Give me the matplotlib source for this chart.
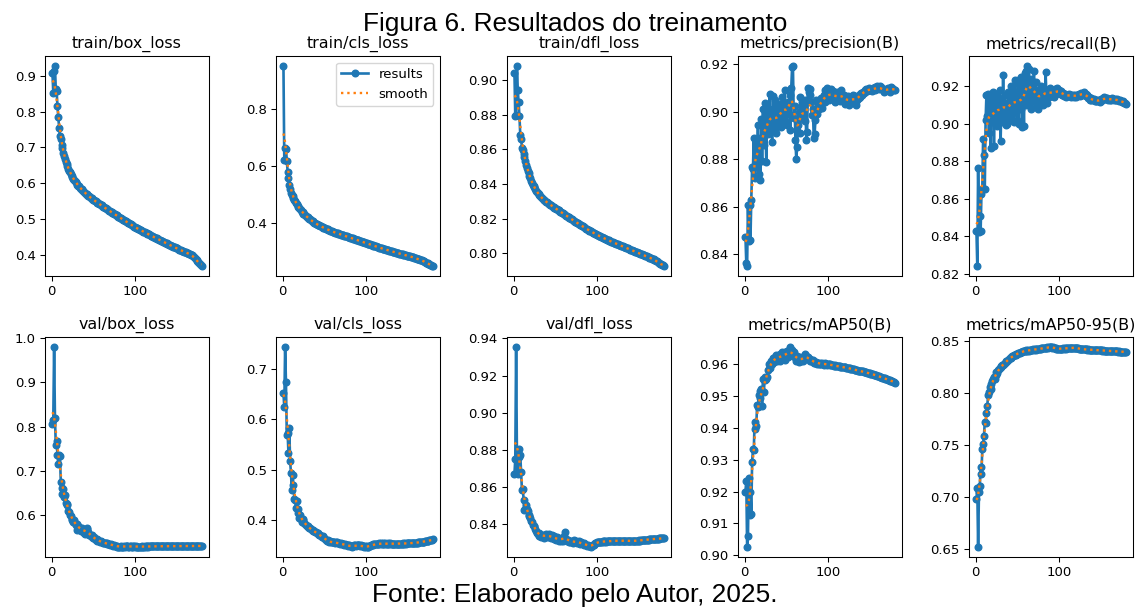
import numpy as np
import matplotlib
matplotlib.use("Agg")
import matplotlib.pyplot as plt
from matplotlib.patches import Rectangle
from matplotlib.ticker import MultipleLocator

# ── Training log (one value per epoch) ─────────────────────────────────────────
epochs = list(range(1, 181))

train_box_loss = [
    0.908, 0.853, 0.912, 0.927, 0.862, 0.858, 0.815, 0.784, 0.755, 0.731,
    0.722, 0.706, 0.697, 0.684, 0.677, 0.668, 0.660, 0.653, 0.647, 0.641,
    0.635, 0.630, 0.626, 0.621, 0.617, 0.613, 0.609, 0.606, 0.602, 0.599,
    0.596, 0.593, 0.591, 0.588, 0.585, 0.583, 0.580, 0.578, 0.576, 0.574,
    0.571, 0.569, 0.567, 0.565, 0.563, 0.561, 0.559, 0.558, 0.556, 0.554,
    0.552, 0.551, 0.549, 0.547, 0.546, 0.544, 0.542, 0.541, 0.539, 0.538,
    0.536, 0.534, 0.533, 0.531, 0.530, 0.528, 0.527, 0.525, 0.523, 0.522,
    0.520, 0.519, 0.518, 0.516, 0.515, 0.513, 0.512, 0.510, 0.509, 0.507,
    0.506, 0.504, 0.503, 0.501, 0.500, 0.498, 0.497, 0.495, 0.494, 0.492,
    0.491, 0.489, 0.488, 0.486, 0.485, 0.483, 0.482, 0.480, 0.479, 0.477,
    0.476, 0.475, 0.474, 0.473, 0.471, 0.470, 0.469, 0.468, 0.466, 0.465,
    0.464, 0.463, 0.461, 0.460, 0.459, 0.458, 0.457, 0.455, 0.454, 0.453,
    0.452, 0.451, 0.450, 0.448, 0.447, 0.446, 0.445, 0.444, 0.442, 0.441,
    0.440, 0.439, 0.438, 0.437, 0.435, 0.434, 0.433, 0.432, 0.431, 0.430,
    0.428, 0.427, 0.426, 0.425, 0.424, 0.423, 0.422, 0.421, 0.420, 0.419,
    0.418, 0.416, 0.415, 0.414, 0.413, 0.412, 0.411, 0.410, 0.409, 0.408,
    0.407, 0.406, 0.405, 0.404, 0.403, 0.402, 0.401, 0.400, 0.399, 0.397,
    0.394, 0.391, 0.388, 0.385, 0.382, 0.379, 0.376, 0.374, 0.371, 0.369,
]

train_cls_loss = [
    0.952, 0.622, 0.663, 0.661, 0.618, 0.580, 0.556, 0.533, 0.517, 0.505,
    0.498, 0.492, 0.486, 0.481, 0.476, 0.470, 0.465, 0.460, 0.455, 0.451,
    0.447, 0.443, 0.439, 0.436, 0.432, 0.429, 0.426, 0.423, 0.420, 0.418,
    0.416, 0.413, 0.411, 0.409, 0.406, 0.404, 0.402, 0.400, 0.398, 0.396,
    0.394, 0.393, 0.391, 0.390, 0.388, 0.387, 0.385, 0.384, 0.382, 0.381,
    0.380, 0.378, 0.377, 0.376, 0.374, 0.373, 0.372, 0.371, 0.369, 0.368,
    0.367, 0.366, 0.365, 0.364, 0.363, 0.362, 0.361, 0.360, 0.359, 0.358,
    0.357, 0.356, 0.355, 0.354, 0.353, 0.352, 0.351, 0.350, 0.349, 0.348,
    0.347, 0.346, 0.345, 0.344, 0.343, 0.342, 0.341, 0.340, 0.339, 0.338,
    0.337, 0.336, 0.335, 0.334, 0.333, 0.332, 0.331, 0.330, 0.329, 0.328,
    0.327, 0.326, 0.325, 0.324, 0.323, 0.322, 0.321, 0.320, 0.319, 0.318,
    0.317, 0.316, 0.315, 0.314, 0.313, 0.312, 0.311, 0.310, 0.309, 0.308,
    0.307, 0.306, 0.306, 0.305, 0.304, 0.303, 0.302, 0.301, 0.300, 0.299,
    0.299, 0.298, 0.297, 0.296, 0.295, 0.294, 0.294, 0.293, 0.292, 0.291,
    0.290, 0.290, 0.289, 0.288, 0.287, 0.287, 0.286, 0.285, 0.284, 0.284,
    0.283, 0.282, 0.281, 0.280, 0.279, 0.278, 0.277, 0.276, 0.275, 0.274,
    0.273, 0.272, 0.271, 0.270, 0.269, 0.268, 0.267, 0.266, 0.265, 0.263,
    0.261, 0.259, 0.258, 0.256, 0.255, 0.253, 0.251, 0.249, 0.248, 0.247,
]

train_dfl_loss = [
    0.9040, 0.8790, 0.8800, 0.9080, 0.8940, 0.8870, 0.8790, 0.8680, 0.8660, 0.8610,
    0.8598, 0.8575, 0.8553, 0.8532, 0.8512, 0.8494, 0.8477, 0.8461, 0.8446, 0.8432,
    0.8419, 0.8407, 0.8396, 0.8386, 0.8380, 0.8370, 0.8362, 0.8354, 0.8347, 0.8340,
    0.8334, 0.8328, 0.8323, 0.8318, 0.8313, 0.8309, 0.8305, 0.8301, 0.8298, 0.8294,
    0.8291, 0.8287, 0.8284, 0.8280, 0.8277, 0.8273, 0.8270, 0.8267, 0.8263, 0.8260,
    0.8257, 0.8254, 0.8250, 0.8247, 0.8244, 0.8241, 0.8237, 0.8234, 0.8231, 0.8228,
    0.8225, 0.8221, 0.8218, 0.8215, 0.8212, 0.8208, 0.8205, 0.8202, 0.8199, 0.8196,
    0.8192, 0.8189, 0.8186, 0.8183, 0.8180, 0.8176, 0.8173, 0.8170, 0.8167, 0.8164,
    0.8161, 0.8158, 0.8155, 0.8152, 0.8149, 0.8146, 0.8143, 0.8140, 0.8137, 0.8134,
    0.8131, 0.8128, 0.8126, 0.8123, 0.8120, 0.8118, 0.8115, 0.8112, 0.8110, 0.8107,
    0.8105, 0.8102, 0.8100, 0.8098, 0.8095, 0.8093, 0.8091, 0.8088, 0.8086, 0.8084,
    0.8082, 0.8079, 0.8077, 0.8075, 0.8073, 0.8071, 0.8068, 0.8066, 0.8064, 0.8062,
    0.8060, 0.8058, 0.8056, 0.8054, 0.8052, 0.8050, 0.8048, 0.8046, 0.8044, 0.8042,
    0.8040, 0.8038, 0.8036, 0.8034, 0.8032, 0.8030, 0.8028, 0.8026, 0.8024, 0.8022,
    0.8020, 0.8018, 0.8016, 0.8014, 0.8012, 0.8010, 0.8008, 0.8006, 0.8004, 0.8002,
    0.8000, 0.7998, 0.7996, 0.7994, 0.7992, 0.7990, 0.7988, 0.7986, 0.7984, 0.7982,
    0.7980, 0.7978, 0.7976, 0.7974, 0.7972, 0.7970, 0.7968, 0.7966, 0.7964, 0.7961,
    0.7957, 0.7953, 0.7949, 0.7946, 0.7942, 0.7939, 0.7936, 0.7933, 0.7930, 0.7927,
]

precision = [
    0.8475, 0.8362, 0.8351, 0.8608, 0.8455, 0.8607, 0.8462, 0.8630, 0.8768, 0.8760,
    0.8890, 0.8722, 0.8775, 0.8870, 0.8805, 0.8945, 0.8740, 0.8888, 0.8712, 0.8968,
    0.8795, 0.9010, 0.8860, 0.9038, 0.8932, 0.8790, 0.8985, 0.8905, 0.9010, 0.9075,
    0.8920, 0.9002, 0.8875, 0.9068, 0.8955, 0.8930, 0.9048, 0.8912, 0.8990, 0.8940,
    0.9035, 0.8960, 0.9010, 0.8935, 0.9062, 0.8985, 0.9020, 0.9092, 0.8960, 0.9008,
    0.8945, 0.9040, 0.8990, 0.9070, 0.8925, 0.9102, 0.9188, 0.9193, 0.8975, 0.9025,
    0.8880, 0.8800, 0.8850, 0.8945, 0.9000, 0.8910, 0.9062, 0.8995, 0.9040, 0.8968,
    0.9025, 0.8960, 0.9048, 0.8880, 0.8915, 0.9100, 0.9085, 0.9095, 0.9072, 0.9040,
    0.8985, 0.9010, 0.8890, 0.8905, 0.8965, 0.9050, 0.8990, 0.9035, 0.9012, 0.9045,
    0.9030, 0.9060, 0.9018, 0.9048, 0.9070, 0.9040, 0.9090, 0.9055, 0.9100, 0.9065,
    0.9048, 0.9080, 0.9062, 0.9095, 0.9070, 0.9088, 0.9055, 0.9078, 0.9040, 0.9065,
    0.9082, 0.9058, 0.9076, 0.9045, 0.9070, 0.9092, 0.9066, 0.9050, 0.9072, 0.9060,
    0.9035, 0.9058, 0.9042, 0.9066, 0.9030, 0.9052, 0.9040, 0.9062, 0.9048, 0.9070,
    0.9055, 0.9040, 0.9065, 0.9028, 0.9050, 0.9068, 0.9058, 0.9075, 0.9062, 0.9080,
    0.9070, 0.9085, 0.9078, 0.9090, 0.9082, 0.9095, 0.9088, 0.9092, 0.9100, 0.9094,
    0.9090, 0.9098, 0.9086, 0.9100, 0.9095, 0.9104, 0.9092, 0.9098, 0.9108, 0.9102,
    0.9095, 0.9100, 0.9110, 0.9104, 0.9098, 0.9090, 0.9085, 0.9092, 0.9088, 0.9096,
    0.9090, 0.9100, 0.9094, 0.9085, 0.9098, 0.9106, 0.9100, 0.9095, 0.9092, 0.9090,
]

recall = [
    0.8425, 0.8241, 0.8762, 0.8420, 0.8510, 0.8425, 0.8625, 0.8650, 0.8920, 0.8830,
    0.8650, 0.9020, 0.9155, 0.9040, 0.9160, 0.8950, 0.9130, 0.8870, 0.9150, 0.9010,
    0.9170, 0.8880, 0.9120, 0.9060, 0.9160, 0.8985, 0.9140, 0.9030, 0.9180, 0.8905,
    0.9120, 0.9010, 0.9260, 0.9040, 0.9150, 0.8990, 0.9110, 0.9000, 0.9170, 0.9060,
    0.9140, 0.9020, 0.9200, 0.9050, 0.9180, 0.9010, 0.9235, 0.9060, 0.9150, 0.9020,
    0.9210, 0.9000, 0.9240, 0.9080, 0.9250, 0.8980, 0.9190, 0.8985, 0.9270, 0.9100,
    0.9280, 0.9307, 0.9120, 0.9290, 0.9150, 0.9240, 0.9080, 0.9210, 0.9120, 0.9280,
    0.9130, 0.9220, 0.9100, 0.9180, 0.9080, 0.9160, 0.9110, 0.9200, 0.9130, 0.9180,
    0.9100, 0.9170, 0.9120, 0.9275, 0.9150, 0.9110, 0.9180, 0.9140, 0.9190, 0.9160,
    0.9180, 0.9150, 0.9170, 0.9140, 0.9185, 0.9160, 0.9175, 0.9190, 0.9165, 0.9180,
    0.9170, 0.9160, 0.9175, 0.9150, 0.9165, 0.9145, 0.9160, 0.9150, 0.9140, 0.9155,
    0.9145, 0.9160, 0.9150, 0.9140, 0.9155, 0.9145, 0.9150, 0.9140, 0.9155, 0.9148,
    0.9140, 0.9155, 0.9150, 0.9160, 0.9145, 0.9155, 0.9165, 0.9150, 0.9160, 0.9168,
    0.9155, 0.9160, 0.9145, 0.9150, 0.9135, 0.9140, 0.9128, 0.9135, 0.9125, 0.9130,
    0.9125, 0.9130, 0.9120, 0.9128, 0.9122, 0.9118, 0.9125, 0.9120, 0.9115, 0.9122,
    0.9130, 0.9125, 0.9135, 0.9140, 0.9132, 0.9138, 0.9130, 0.9135, 0.9128, 0.9132,
    0.9125, 0.9130, 0.9128, 0.9135, 0.9130, 0.9126, 0.9132, 0.9128, 0.9124, 0.9130,
    0.9126, 0.9120, 0.9124, 0.9118, 0.9122, 0.9115, 0.9118, 0.9110, 0.9112, 0.9105,
]

val_box_loss = [
    0.8050, 0.8150, 0.9790, 0.8200, 0.7580, 0.7680, 0.7350, 0.7160, 0.7350, 0.7330,
    0.6760, 0.6620, 0.6480, 0.6600, 0.6410, 0.6460, 0.6280, 0.6230, 0.6260, 0.6110,
    0.6080, 0.6010, 0.5980, 0.5920, 0.5890, 0.5860, 0.5900, 0.5820, 0.5780, 0.5800,
    0.5680, 0.5760, 0.5730, 0.5710, 0.5660, 0.5700, 0.5720, 0.5670, 0.5610, 0.5590,
    0.5630, 0.5700, 0.5710, 0.5620, 0.5570, 0.5560, 0.5530, 0.5550, 0.5520, 0.5490,
    0.5520, 0.5480, 0.5450, 0.5470, 0.5430, 0.5440, 0.5420, 0.5410, 0.5430, 0.5400,
    0.5400, 0.5380, 0.5390, 0.5370, 0.5380, 0.5360, 0.5370, 0.5350, 0.5360, 0.5340,
    0.5350, 0.5330, 0.5340, 0.5320, 0.5330, 0.5310, 0.5320, 0.5300, 0.5310, 0.5295,
    0.5300, 0.5289, 0.5310, 0.5300, 0.5292, 0.5300, 0.5310, 0.5295, 0.5305, 0.5310,
    0.5305, 0.5300, 0.5298, 0.5302, 0.5310, 0.5296, 0.5293, 0.5301, 0.5306, 0.5300,
    0.5304, 0.5298, 0.5295, 0.5300, 0.5297, 0.5293, 0.5296, 0.5299, 0.5301, 0.5298,
    0.5300, 0.5302, 0.5299, 0.5301, 0.5303, 0.5300, 0.5302, 0.5304, 0.5301, 0.5303,
    0.5305, 0.5302, 0.5304, 0.5306, 0.5303, 0.5305, 0.5307, 0.5304, 0.5306, 0.5305,
    0.5307, 0.5305, 0.5308, 0.5306, 0.5304, 0.5307, 0.5305, 0.5308, 0.5306, 0.5309,
    0.5307, 0.5305, 0.5308, 0.5306, 0.5309, 0.5307, 0.5310, 0.5308, 0.5306, 0.5309,
    0.5307, 0.5310, 0.5308, 0.5311, 0.5309, 0.5307, 0.5310, 0.5308, 0.5311, 0.5309,
    0.5311, 0.5309, 0.5312, 0.5310, 0.5308, 0.5311, 0.5309, 0.5312, 0.5310, 0.5313,
    0.5311, 0.5313, 0.5310, 0.5312, 0.5314, 0.5311, 0.5313, 0.5312, 0.5314, 0.5313,
]

val_cls_loss = [
    0.6525, 0.6235, 0.7435, 0.6740, 0.5690, 0.5730, 0.5330, 0.5830, 0.5160, 0.4940,
    0.4600, 0.4900, 0.4700, 0.4420, 0.4400, 0.4240, 0.4370, 0.4140, 0.4220, 0.4040,
    0.4090, 0.4010, 0.3960, 0.4020, 0.3990, 0.3930, 0.3920, 0.3900, 0.3880, 0.3870,
    0.3860, 0.3840, 0.3830, 0.3810, 0.3800, 0.3780, 0.3790, 0.3770, 0.3760, 0.3750,
    0.3740, 0.3720, 0.3730, 0.3700, 0.3690, 0.3680, 0.3660, 0.3670, 0.3650, 0.3640,
    0.3620, 0.3600, 0.3580, 0.3590, 0.3570, 0.3560, 0.3570, 0.3550, 0.3560, 0.3550,
    0.3560, 0.3550, 0.3540, 0.3560, 0.3550, 0.3540, 0.3530, 0.3540, 0.3520, 0.3530,
    0.3520, 0.3510, 0.3520, 0.3500, 0.3510, 0.3490, 0.3500, 0.3490, 0.3480, 0.3490,
    0.3470, 0.3480, 0.3465, 0.3480, 0.3470, 0.3490, 0.3500, 0.3480, 0.3490, 0.3500,
    0.3490, 0.3500, 0.3480, 0.3490, 0.3470, 0.3480, 0.3470, 0.3465, 0.3470, 0.3460,
    0.3470, 0.3460, 0.3465, 0.3470, 0.3480, 0.3490, 0.3500, 0.3500, 0.3510, 0.3510,
    0.3520, 0.3520, 0.3520, 0.3525, 0.3520, 0.3530, 0.3525, 0.3530, 0.3520, 0.3525,
    0.3530, 0.3525, 0.3530, 0.3520, 0.3525, 0.3530, 0.3528, 0.3525, 0.3530, 0.3528,
    0.3525, 0.3522, 0.3526, 0.3524, 0.3527, 0.3525, 0.3528, 0.3526, 0.3529, 0.3527,
    0.3528, 0.3526, 0.3529, 0.3527, 0.3530, 0.3528, 0.3531, 0.3529, 0.3532, 0.3530,
    0.3533, 0.3535, 0.3534, 0.3537, 0.3538, 0.3540, 0.3539, 0.3542, 0.3543, 0.3545,
    0.3547, 0.3548, 0.3551, 0.3553, 0.3555, 0.3558, 0.3560, 0.3563, 0.3566, 0.3569,
    0.3572, 0.3576, 0.3579, 0.3583, 0.3587, 0.3591, 0.3596, 0.3600, 0.3605, 0.3610,
]

val_dfl_loss = [
    0.8670, 0.8750, 0.9354, 0.8748, 0.8670, 0.8805, 0.8760, 0.8770, 0.8680, 0.8580,
    0.8590, 0.8529, 0.8475, 0.8480, 0.8500, 0.8478, 0.8468, 0.8448, 0.8440, 0.8432,
    0.8415, 0.8408, 0.8395, 0.8390, 0.8386, 0.8370, 0.8362, 0.8350, 0.8345, 0.8333,
    0.8350, 0.8338, 0.8328, 0.8342, 0.8335, 0.8326, 0.8340, 0.8332, 0.8346, 0.8330,
    0.8338, 0.8327, 0.8345, 0.8335, 0.8322, 0.8340, 0.8328, 0.8318, 0.8332, 0.8320,
    0.8315, 0.8328, 0.8318, 0.8310, 0.8324, 0.8312, 0.8306, 0.8318, 0.8310, 0.8320,
    0.8335, 0.8356, 0.8318, 0.8305, 0.8312, 0.8302, 0.8308, 0.8300, 0.8310, 0.8304,
    0.8298, 0.8306, 0.8312, 0.8300, 0.8305, 0.8296, 0.8302, 0.8310, 0.8298, 0.8292,
    0.8300, 0.8295, 0.8290, 0.8296, 0.8288, 0.8292, 0.8285, 0.8282, 0.8286, 0.8280,
    0.8278, 0.8283, 0.8275, 0.8279, 0.8284, 0.8288, 0.8292, 0.8296, 0.8298, 0.8300,
    0.8302, 0.8301, 0.8303, 0.8302, 0.8304, 0.8303, 0.8305, 0.8304, 0.8305, 0.8306,
    0.8304, 0.8306, 0.8305, 0.8307, 0.8306, 0.8308, 0.8307, 0.8309, 0.8308, 0.8307,
    0.8309, 0.8308, 0.8310, 0.8309, 0.8307, 0.8309, 0.8310, 0.8308, 0.8310, 0.8309,
    0.8308, 0.8310, 0.8309, 0.8307, 0.8309, 0.8310, 0.8308, 0.8307, 0.8309, 0.8308,
    0.8307, 0.8309, 0.8308, 0.8306, 0.8308, 0.8309, 0.8307, 0.8309, 0.8310, 0.8309,
    0.8311, 0.8310, 0.8312, 0.8311, 0.8313, 0.8312, 0.8314, 0.8313, 0.8315, 0.8314,
    0.8315, 0.8316, 0.8315, 0.8317, 0.8316, 0.8318, 0.8317, 0.8318, 0.8319, 0.8318,
    0.8319, 0.8320, 0.8319, 0.8321, 0.8320, 0.8321, 0.8322, 0.8321, 0.8322, 0.8321,
]

map50 = [
    0.9200, 0.9235, 0.9026, 0.9060, 0.9242, 0.9128, 0.9200, 0.9130, 0.9294, 0.9333,
    0.9330, 0.9420, 0.9398, 0.9408, 0.9472, 0.9465, 0.9503, 0.9517, 0.9496, 0.9524,
    0.9468, 0.9555, 0.9512, 0.9550, 0.9562, 0.9555, 0.9560, 0.9584, 0.9603, 0.9590,
    0.9598, 0.9612, 0.9600, 0.9620, 0.9608, 0.9625, 0.9615, 0.9630, 0.9612, 0.9622,
    0.9618, 0.9632, 0.9610, 0.9628, 0.9640, 0.9622, 0.9635, 0.9615, 0.9638, 0.9630,
    0.9642, 0.9625, 0.9645, 0.9638, 0.9655, 0.9630, 0.9646, 0.9628, 0.9640, 0.9622,
    0.9625, 0.9612, 0.9628, 0.9618, 0.9608, 0.9622, 0.9615, 0.9610, 0.9618, 0.9612,
    0.9620, 0.9626, 0.9632, 0.9628, 0.9622, 0.9625, 0.9618, 0.9612, 0.9616, 0.9612,
    0.9610, 0.9614, 0.9606, 0.9609, 0.9604, 0.9608, 0.9603, 0.9606, 0.9601, 0.9605,
    0.9603, 0.9600, 0.9605, 0.9601, 0.9598, 0.9604, 0.9600, 0.9602, 0.9599, 0.9603,
    0.9600, 0.9601, 0.9598, 0.9599, 0.9597, 0.9598, 0.9596, 0.9597, 0.9595, 0.9596,
    0.9595, 0.9594, 0.9595, 0.9593, 0.9594, 0.9592, 0.9593, 0.9591, 0.9592, 0.9592,
    0.9591, 0.9590, 0.9590, 0.9589, 0.9588, 0.9588, 0.9587, 0.9586, 0.9586, 0.9585,
    0.9585, 0.9584, 0.9583, 0.9583, 0.9582, 0.9581, 0.9581, 0.9580, 0.9580, 0.9579,
    0.9578, 0.9578, 0.9577, 0.9576, 0.9576, 0.9575, 0.9574, 0.9573, 0.9573, 0.9572,
    0.9571, 0.9571, 0.9570, 0.9569, 0.9568, 0.9568, 0.9567, 0.9566, 0.9565, 0.9564,
    0.9563, 0.9562, 0.9561, 0.9560, 0.9559, 0.9558, 0.9557, 0.9556, 0.9555, 0.9554,
    0.9553, 0.9552, 0.9551, 0.9550, 0.9549, 0.9548, 0.9547, 0.9546, 0.9545, 0.9543,
]

map50_95 = [
    0.6980, 0.7090, 0.6520, 0.7046, 0.7110, 0.7287, 0.7222, 0.7463, 0.7511, 0.7590,
    0.7720, 0.7715, 0.7810, 0.7880, 0.7977, 0.8009, 0.8057, 0.8040, 0.8090, 0.8112,
    0.8135, 0.8153, 0.8140, 0.8175, 0.8201, 0.8195, 0.8220, 0.8230, 0.8245, 0.8250,
    0.8258, 0.8268, 0.8272, 0.8280, 0.8290, 0.8295, 0.8305, 0.8310, 0.8322, 0.8330,
    0.8335, 0.8340, 0.8346, 0.8352, 0.8356, 0.8362, 0.8365, 0.8370, 0.8375, 0.8378,
    0.8382, 0.8385, 0.8388, 0.8392, 0.8394, 0.8398, 0.8400, 0.8404, 0.8402, 0.8408,
    0.8410, 0.8405, 0.8412, 0.8408, 0.8415, 0.8410, 0.8418, 0.8414, 0.8420, 0.8416,
    0.8420, 0.8418, 0.8424, 0.8420, 0.8426, 0.8422, 0.8428, 0.8425, 0.8430, 0.8433,
    0.8435, 0.8430, 0.8436, 0.8438, 0.8434, 0.8440, 0.8437, 0.8442, 0.8439, 0.8443,
    0.8440, 0.8438, 0.8442, 0.8436, 0.8432, 0.8430, 0.8428, 0.8426, 0.8428, 0.8426,
    0.8427, 0.8425, 0.8428, 0.8426, 0.8429, 0.8427, 0.8430, 0.8428, 0.8432, 0.8430,
    0.8433, 0.8431, 0.8435, 0.8433, 0.8436, 0.8434, 0.8437, 0.8435, 0.8438, 0.8436,
    0.8435, 0.8432, 0.8430, 0.8428, 0.8426, 0.8424, 0.8423, 0.8421, 0.8422, 0.8420,
    0.8421, 0.8419, 0.8420, 0.8418, 0.8419, 0.8417, 0.8418, 0.8416, 0.8417, 0.8415,
    0.8416, 0.8414, 0.8415, 0.8413, 0.8414, 0.8412, 0.8413, 0.8411, 0.8412, 0.8410,
    0.8411, 0.8409, 0.8410, 0.8408, 0.8409, 0.8407, 0.8408, 0.8406, 0.8407, 0.8405,
    0.8406, 0.8404, 0.8405, 0.8403, 0.8404, 0.8402, 0.8401, 0.8402, 0.8400, 0.8401,
    0.8399, 0.8400, 0.8398, 0.8399, 0.8397, 0.8398, 0.8396, 0.8397, 0.8395, 0.8394,
]

panel_titles = [
    "train/box_loss", "train/cls_loss", "train/dfl_loss",
    "metrics/precision(B)", "metrics/recall(B)",
    "val/box_loss", "val/cls_loss", "val/dfl_loss",
    "metrics/mAP50(B)", "metrics/mAP50-95(B)",
]
panel_series = [
    train_box_loss, train_cls_loss, train_dfl_loss, precision, recall,
    val_box_loss, val_cls_loss, val_dfl_loss, map50, map50_95,
]
# y tick spacing per panel
panel_ystep = [0.1, 0.2, 0.02, 0.02, 0.02, 0.1, 0.1, 0.02, 0.01, 0.05]

fig_title = "Figura 6. Resultados do treinamento"
fig_source = "Fonte: Elaborado pelo Autor, 2025."


def gaussian_smooth(y, sigma=3.0, truncate=4.0):
    """1-D gaussian filter with reflected edges (same as scipy's default)."""
    radius = int(truncate * sigma + 0.5)
    k = np.arange(-radius, radius + 1)
    w = np.exp(-0.5 * (k / sigma) ** 2)
    w /= w.sum()
    padded = np.pad(np.asarray(y, dtype=float), radius, mode="symmetric")
    return np.convolve(padded, w, mode="valid")


# ── Figure ───────────────────────────────────────────────────────────────────
W, H = 1142, 610
k = 0.952  # size scale for fonts / lines

plt.rcParams["font.family"] = "DejaVu Sans"
fig = plt.figure(figsize=(W / 100, H / 100), dpi=100)

ax_w, ax_h = 164, 220
lefts = [45, 276, 507, 738, 969]
tops = [56, 337]

for i, (title, y) in enumerate(zip(panel_titles, panel_series)):
    r, c = divmod(i, 5)
    ax = fig.add_axes([lefts[c] / W, (H - tops[r] - ax_h) / H, ax_w / W, ax_h / H])
    ax.plot(epochs, y, marker=".", label="results", linewidth=2 * k, markersize=9.5)
    ax.plot(epochs, gaussian_smooth(y), ":", label="smooth", linewidth=1.7)
    ax.set_title(title, fontsize=12 * k, pad=6 * k)
    ax.xaxis.set_major_locator(MultipleLocator(100))
    ax.yaxis.set_major_locator(MultipleLocator(panel_ystep[i]))
    ax.tick_params(labelsize=10 * k, length=3.5 * k, width=0.8 * k, pad=3.5 * k)
    for sp in ax.spines.values():
        sp.set_linewidth(0.8 * k)
    if i == 1:
        ax.legend(fontsize=10 * k, loc="upper right")

# caption strip at the bottom sits over the lowest tick labels
fig.patches.append(Rectangle((0, 0), 1, (H - 576) / H, transform=fig.transFigure,
                             facecolor="white", edgecolor="none", zorder=5))

fig.text(0.5035, (H - 30.7) / H, fig_title, ha="center", va="baseline",
         fontsize=18.9, family="Liberation Sans", zorder=6)
fig.text(0.503, (H - 602) / H, fig_source, ha="center", va="baseline",
         fontsize=18.9, family="Liberation Sans", zorder=6)

fig.savefig("out.png", dpi=100, facecolor="white")
